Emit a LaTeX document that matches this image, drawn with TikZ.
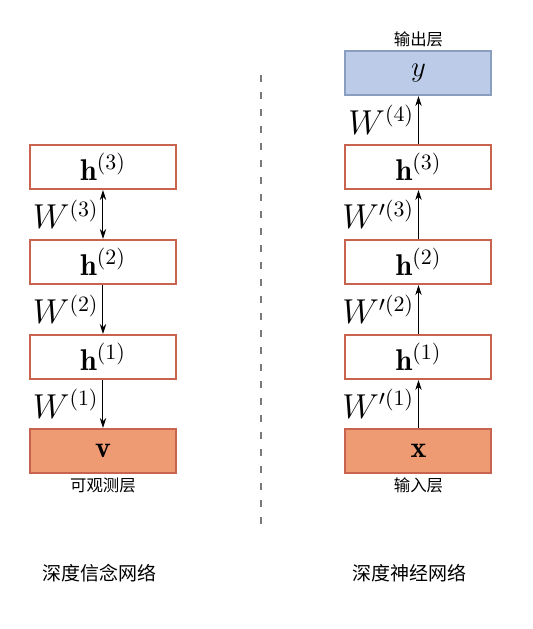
\documentclass[tikz,border=0pt]{standalone}
\usepackage{fontspec}
\usepackage{amsmath}
\newfontfamily\cjk{Noto Sans CJK SC}
\usetikzlibrary{arrows.meta}
\definecolor{boxred}{HTML}{C8634F}
\definecolor{boxfill}{HTML}{EE9A73}
\definecolor{bluefill}{HTML}{BCCCE8}
\definecolor{blueline}{HTML}{8A9FBF}
\definecolor{sepgray}{HTML}{7A7A7A}
\begin{document}
\begin{tikzpicture}[x=0.5pt,y=-0.5pt,
  layer/.style={draw=boxred, line width=1pt, minimum width=73pt, minimum height=22pt,
    inner sep=0pt, fill=white, font=\fontsize{15}{18}\selectfont},
  inlayer/.style={layer, fill=boxfill},
  outlayer/.style={layer, draw=blueline, fill=bluefill},
  arr/.style={line width=0.5pt, -{Stealth[length=5pt,width=3.2pt]}},
  darr/.style={line width=0.5pt, {Stealth[length=5pt,width=3.2pt]}-{Stealth[length=5pt,width=3.2pt]}},
  wlab/.style={left, inner sep=2pt, font=\fontsize{16}{19}\selectfont},
  smalllab/.style={font=\cjk\fontsize{8.2}{10}\selectfont, inner sep=0pt},
  caplab/.style={font=\cjk\fontsize{9.5}{12}\selectfont, inner sep=0pt},
  sepline/.style={draw=sepgray, line width=1pt, dash pattern=on 3.5pt off 5pt}
]
\useasboundingbox (0,0) rectangle (533,629);

% left: deep belief network
\node[layer] (h3L) at (103,167) {$\mathbf{h}^{(3)}$};
\node[layer] (h2L) at (103,262) {$\mathbf{h}^{(2)}$};
\node[layer] (h1L) at (103,357) {$\mathbf{h}^{(1)}$};
\node[inlayer] (vL) at (103,451) {$\mathbf{v}$};
\node[smalllab] (vlab) at (103,485) {可观测层};

\draw[darr] (h3L.south) -- node[wlab] {$W^{(3)}$} (h2L.north);
\draw[arr] (h2L.south) -- node[wlab] {$W^{(2)}$} (h1L.north);
\draw[arr] (h1L.south) -- node[wlab] {$W^{(1)}$} (vL.north);

% right: deep neural network
\node[outlayer] (yR) at (418.5,73) {$y$};
\node[smalllab] (ylab) at (418.5,39) {输出层};
\node[layer] (h3R) at (418.5,167) {$\mathbf{h}^{(3)}$};
\node[layer] (h2R) at (418.5,262) {$\mathbf{h}^{(2)}$};
\node[layer] (h1R) at (418.5,357) {$\mathbf{h}^{(1)}$};
\node[inlayer] (xR) at (418.5,451) {$\mathbf{x}$};
\node[smalllab] (xlab) at (418.5,485) {输入层};

\draw[arr] (xR.north) -- node[wlab] {$W'^{(1)}$} (h1R.south);
\draw[arr] (h1R.north) -- node[wlab] {$W'^{(2)}$} (h2R.south);
\draw[arr] (h2R.north) -- node[wlab] {$W'^{(3)}$} (h3R.south);
\draw[arr] (h3R.north) -- node[wlab] {$W^{(4)}$} (yR.south);

% separator
\coordinate (sepTop) at (261,75);
\coordinate (sepBot) at (261,528);
\draw[sepline] (sepTop) -- (sepBot);

% captions
\node[caplab] (capL) at (100,573) {深度信念网络};
\node[caplab] (capR) at (410,573) {深度神经网络};
\end{tikzpicture}
\end{document}
